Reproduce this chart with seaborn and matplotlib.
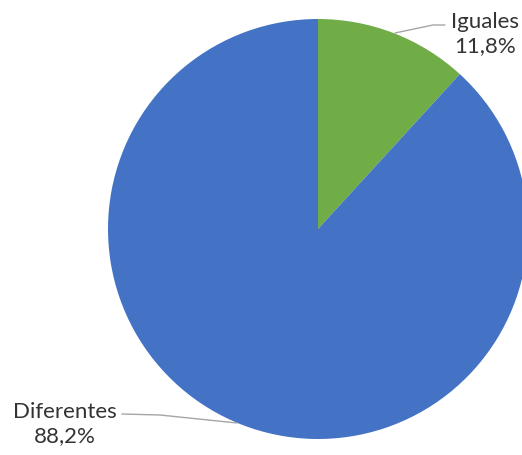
import matplotlib
matplotlib.use("Agg")
import matplotlib.pyplot as plt
import seaborn as sns

sns.set_theme(style="white")
plt.rcParams['font.family'] = ['Lato', 'DejaVu Sans']

categories = ["Iguales", "Diferentes"]
shares = [11.8, 88.2]
value_labels = ["11,8%", "88,2%"]
colors = ["#70AD47", "#4472C4"]

W, H = 522, 455
CX, CY, R = 318, 229, 210


def to_data(px, py):
    return (px - CX) / R, (CY - py) / R


fig = plt.figure(figsize=(W / 100, H / 100), dpi=100)
ax = fig.add_axes([0, 0, 1, 1])
ax.pie(shares, colors=colors, startangle=90, counterclock=False, radius=1,
       wedgeprops=dict(linewidth=0))
ax.set_xlim(-CX / R, (W - CX) / R)
ax.set_ylim((CY - H) / R, CY / R)
ax.set_aspect("auto")
ax.axis("off")

# label positions and leader lines (pixel coordinates)
label_spots = [(485, 34), (65, 424)]
leaders = [
    [(395, 33), (433, 25), (445, 25)],
    [(237, 423), (160, 415), (122, 414)],
]
for cat, vl, (lx, ly), pts in zip(categories, value_labels, label_spots, leaders):
    tx, ty = to_data(lx, ly)
    ax.text(tx, ty, f"{cat}\n{vl}", ha="center", va="center", fontsize=16,
            color="#333333", linespacing=1.3)
    xs, ys = zip(*[to_data(*p) for p in pts])
    ax.plot(xs, ys, color="#A6A6A6", linewidth=1.0)

fig.savefig("out.png", dpi=100)
